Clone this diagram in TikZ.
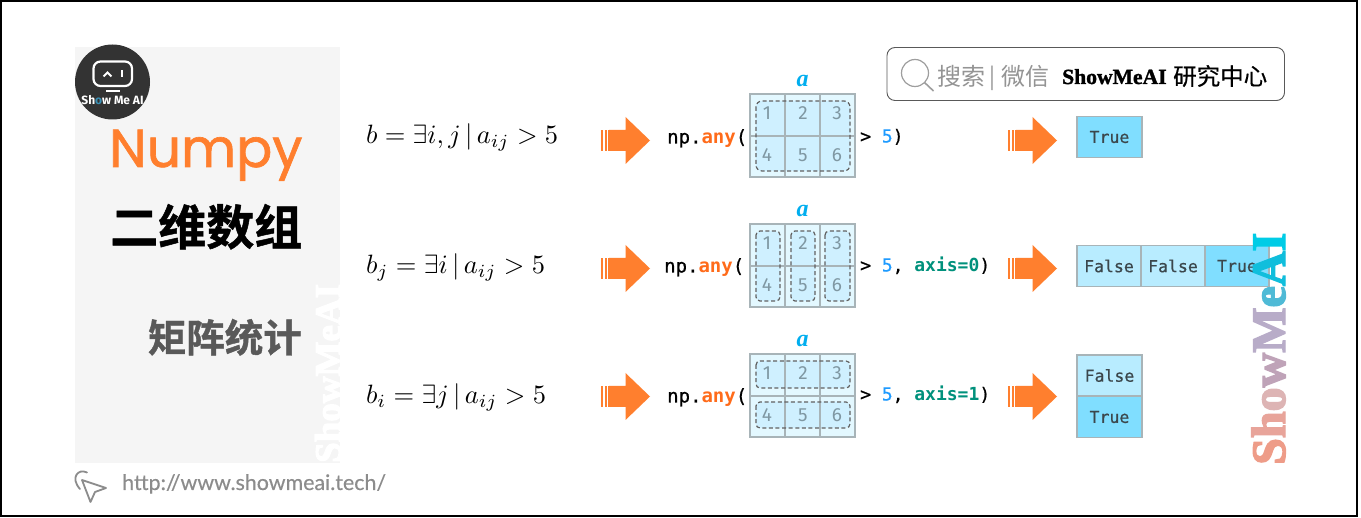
\documentclass[tikz,border=0pt]{standalone}
\usepackage{fontspec}
\newfontfamily\cjk{Noto Sans CJK SC}
\newfontfamily\cjkm[FakeBold=0.35]{Noto Sans CJK SC}
\newfontfamily\cjkb[FakeBold=1.0]{Noto Sans CJK SC Bold}
\newfontfamily\mono[FakeBold=0.6]{DejaVu Sans Mono}
\newfontfamily\monob{DejaVu Sans Mono Bold}
\newfontfamily\ser{Liberation Serif}
\newfontfamily\serb[FakeBold=1.5]{Liberation Serif Bold}
\newfontfamily\serw[FakeBold=3]{Liberation Serif Bold}
\newfontfamily\pop[FakeBold=1.2]{Poppins}
\newfontfamily\urlf[FakeBold=0.3]{Lato}
\newfontfamily\fira{Fira Sans}
\usetikzlibrary{calc}
\definecolor{orng}{HTML}{FF7F2E}
\definecolor{anyc}{HTML}{FF6B1A}
\definecolor{fivec}{HTML}{1E9BFF}
\definecolor{axisc}{HTML}{00917C}
\definecolor{gridc}{HTML}{A8B4B8}
\definecolor{light}{HTML}{E3F8FF}
\definecolor{mid}{HTML}{CFF0FF}
\definecolor{falsec}{HTML}{B8ECFF}
\definecolor{truec}{HTML}{80DEFF}
\definecolor{numc}{HTML}{7F97A2}
\definecolor{txtc}{HTML}{3B474C}
\definecolor{panel}{HTML}{F5F5F5}
\definecolor{labc}{HTML}{00AEEF}
\newcommand{\ot}[1]{\lower1pt\hbox{#1}}
\newcommand{\anyw}{\textcolor{anyc}{\monob any}}
\tikzset{
 mathtext/.style={scale=2.65,anchor=base west,inner sep=0pt},
 code/.style={anchor=base west,inner sep=0pt,font=\mono\fontsize{18}{20}\selectfont},
 codel/.style={anchor=base west,inner sep=0pt,font=\mono\fontsize{19}{20}\selectfont},
 num/.style={inner sep=0pt,text=numc,font=\fira\fontsize{19}{20}\selectfont},
 matlab/.style={inner sep=0pt,text=labc,font=\ser\bfseries\itshape\fontsize{24}{24}\selectfont},
 outbox/.style={draw=gridc,line width=1.5pt,minimum height=41pt,inner sep=0pt,text=txtc,font=\mono\fontsize{16.5}{18}\selectfont},
 gridl/.style={draw=gridc,line width=1.5pt},
 dashbox/.style={draw=black!62,line width=1.2pt,dash pattern=on 4pt off 2.6pt,rounded corners=6pt},
 wm/.style={inner sep=0pt,rotate=90,anchor=base west},
}
\newcommand{\blockarrow}[2]{%
 \fill[orng] (#1,#2-23.5) -- (#1+24.5,#2) -- (#1,#2+23.5) -- (#1,#2+10.5) -- (#1-16.5,#2+10.5) -- (#1-16.5,#2-10.5) -- (#1,#2-10.5) -- cycle;
 \fill[orng] (#1-24.5,#2-10.5) rectangle (#1-22.5,#2+10.5);
 \fill[orng] (#1-21,#2-10.5) rectangle (#1-19,#2+10.5);
 \fill[orng] (#1-18,#2-10.5) rectangle (#1-16.5,#2+10.5);
}
\newcommand{\matbase}[1]{%
 \draw[gridl] (750,#1) rectangle (855,#1+83);
 \draw[gridl] (785,#1) -- (785,#1+83) (820,#1) -- (820,#1+83) (750,#1+42) -- (855,#1+42);
 \node[matlab] (lab#1) at (802.5,#1-13.5) {a};
 \node[num] (n1#1) at (767,#1+19) {1};
 \node[num] (n2#1) at (803,#1+19) {2};
 \node[num] (n3#1) at (837,#1+19) {3};
 \node[num] (n4#1) at (767,#1+61) {4};
 \node[num] (n5#1) at (803,#1+61) {5};
 \node[num] (n6#1) at (837,#1+61) {6};
}
\begin{document}
\begin{tikzpicture}[x=1pt,y=-1pt]
\useasboundingbox (0,0) rectangle (1361,518);
\fill[white] (0,0) rectangle (1361,518);
% panel
\fill[panel] (75,47) rectangle (340,463);
\begin{scope}
\clip (300,270) rectangle (340,470);
\node[wm,text=white,font=\serw\fontsize{37}{37}\selectfont] (wmleft) at (340.5,463) {ShowMeAI};
\end{scope}
% logo
\fill[black!80] (112.5,82) circle (37.5);
\draw[white,line width=2.2pt,rounded corners=7pt] (93.5,61.5) rectangle (132,86);
\draw[white,line width=1.8pt] (103.5,76.5) -- (107.5,72.5) -- (111.5,76.5);
\draw[white,line width=2.4pt] (122,70.5) -- (122,77.5);
\draw[white,line width=2pt] (106,91) -- (120,91);
\node[inner sep=0pt,text=white,font=\fira\bfseries\fontsize{12}{12}\selectfont] (logotext) at (112.5,100.5) {Sh\textcolor{cyan!70!black}{o}w Me AI};
% titles
\node[inner sep=0pt,anchor=base west,text=orng,font=\pop\fontsize{53.5}{60}\selectfont] (title) at (109,167) {Numpy};
\node[inner sep=0pt,anchor=base east,text=black,font=\cjkb\fontsize{48}{50}\selectfont] (sub) at (302.5,245) {二维数组};
\node[inner sep=0pt,anchor=base east,text=black!65,font=\cjkb\fontsize{38.5}{40}\selectfont] (sub2) at (302,352) {矩阵统计};
% url
\draw[black!45,line width=1.8pt,line cap=round,line join=round] (82,480) -- (106,488) -- (95,492) -- (90.5,502) -- cycle;
\draw[black!45,line width=1.8pt,line cap=round] (87,472.5) .. controls (78,468) and (70,478) .. (80,489);
\node[inner sep=0pt,anchor=base west,text=black!45,font=\urlf\fontsize{21.4}{22}\selectfont] (url) at (122,490) {http://www.showmeai.tech/};
% search box
\draw[black!65,line width=0.9pt,rounded corners=8pt] (887,47.5) rectangle (1284.5,100.5);
\draw[black!38,line width=1.2pt] (915,73) circle (13.5);
\draw[black!38,line width=1.6pt] (924.5,82.5) -- (933.5,91);
\node[inner sep=0pt,anchor=base west,text=black!42,font=\cjk\fontsize{24}{26}\selectfont] (search) at (937,86) {搜索};
\node[inner sep=0pt,anchor=base west,text=black!42,font=\cjk\fontsize{22}{26}\selectfont] (bar) at (989,85) {|};
\node[inner sep=0pt,anchor=base west,text=black!42,font=\cjk\fontsize{24}{26}\selectfont] (wx) at (1001,86) {微信};
\node[inner sep=0pt,anchor=base west,font=\serb\fontsize{21.6}{22}\selectfont] (sm) at (1062,84) {ShowMeAI};
\node[inner sep=0pt,anchor=base west,font=\cjkm\fontsize{23.5}{26}\selectfont] (yj) at (1173,85) {研究中心};
% math
\node[mathtext] (m1) at (365.5,144) {$b=\exists i,j\,|\,a_{ij}>5$};
\node[mathtext] (m2) at (365.5,274) {$b_j=\exists i\,|\,a_{ij}>5$};
\node[mathtext] (m3) at (365.5,404) {$b_i=\exists j\,|\,a_{ij}>5$};
% arrows
\blockarrow{625.5}{140.5}
\blockarrow{625.5}{268.5}
\blockarrow{625.5}{396.5}
\blockarrow{1032.5}{140.5}
\blockarrow{1032.5}{268.5}
\blockarrow{1032.5}{396.5}
% code
\node[codel] (c1) at (667,143.5) {np.\anyw(};
\node[codel] (c2) at (664,272.5) {np.\anyw(};
\node[codel] (c3) at (667,402.5) {np.\anyw(};
\node[code] (d1) at (860,142.5) {> \textcolor{fivec}{5})};
\node[code] (d2) at (860,271.5) {> \textcolor{fivec}{5}, \textcolor{axisc}{\monob axis=0})};
\node[code] (d3) at (860,400.5) {> \textcolor{fivec}{5}, \textcolor{axisc}{\monob axis=1})};
% matrix 1
\fill[light] (750,94) rectangle (855,177);
\fill[mid,rounded corners=6pt] (756,101) rectangle (850,171);
\matbase{94}
\draw[dashbox] (756,101) rectangle (850,171);
% matrix 2
\fill[light] (750,224) rectangle (855,307);
\foreach \xa/\xb in {756/780,791/815,825/850}{\fill[mid,rounded corners=5pt] (\xa,231) rectangle (\xb,301);}
\matbase{224}
\foreach \xa/\xb in {756/780,791/815,825/850}{\draw[dashbox,rounded corners=4pt] (\xa,231) rectangle (\xb,301);}
% matrix 3
\fill[light] (750,354) rectangle (855,437);
\foreach \ya/\yb in {361/388,402/428}{\fill[mid,rounded corners=5pt] (756,\ya) rectangle (850,\yb);}
\matbase{354}
\foreach \ya/\yb in {361/388,402/428}{\draw[dashbox,rounded corners=4pt] (756,\ya) rectangle (850,\yb);}
% outputs
\node[outbox,fill=truec,minimum width=65pt] (t1) at (1109.5,137) {\ot{True}};
\node[outbox,fill=falsec,minimum width=64pt] (t2a) at (1109,266) {\ot{False}};
\node[outbox,fill=falsec,minimum width=64pt] (t2b) at (1173,266) {\ot{False}};
\node[outbox,fill=truec,minimum width=64pt] (t2c) at (1237,266) {\ot{True}};
\node[outbox,fill=falsec,minimum width=65pt] (t3a) at (1109.5,375.5) {\ot{False}};
\node[outbox,fill=truec,minimum width=65pt] (t3b) at (1109.5,417) {\ot{True}};
% gradient watermark
\node[wm,font=\serw\fontsize{48}{48}\selectfont] (wmright) at (1285,465) {\textcolor[HTML]{EE9C88}{S}\textcolor[HTML]{E8A49A}{h}\textcolor[HTML]{DDB4B4}{o}\textcolor[HTML]{BFA3B8}{w}\textcolor[HTML]{B8ACC8}{M}\textcolor[HTML]{4FBAD6}{e}\textcolor[HTML]{10BEDC}{A}\textcolor[HTML]{00CCE6}{I}};
% frame
\draw[black,line width=2pt] (1,1) rectangle (1357,516);
\end{tikzpicture}
\end{document}
